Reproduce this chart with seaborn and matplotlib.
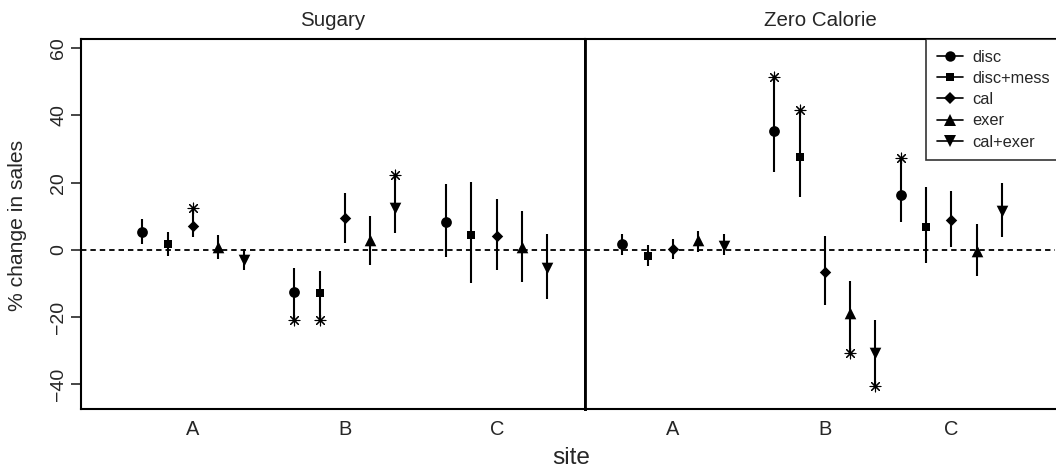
import numpy as np
import pandas as pd
import matplotlib
matplotlib.use("Agg")
import matplotlib.pyplot as plt
from matplotlib.lines import Line2D
import seaborn as sns

# ---------------- data ----------------
treatments = ["disc", "disc+mess", "cal", "exer", "cal+exer"]
sites = ["A", "B", "C"]
panels = ["Sugary", "Zero Calorie"]

# values ordered site-major (A: 5 treatments, B: 5, C: 5)
sugary_est = [5.4, 1.8, 7.1, 1.0, -3.0,
              -12.4, -12.7, 9.4, 2.8, 12.4,
              8.2, 4.3, 4.0, 1.0, -5.5]
sugary_lo = [1.8, -1.8, 3.7, -2.6, -6.1,
             -20.8, -20.8, 2.0, -4.5, 5.0,
             -2.2, -9.9, -6.1, -9.4, -14.7]
sugary_hi = [9.1, 5.2, 12.4, 4.5, 0.3,
             -5.5, -6.2, 16.8, 10.1, 22.3,
             19.6, 20.1, 15.1, 11.6, 4.8]
sugary_sig = [0, 0, 1, 0, 0,
              1, 1, 0, 0, 1,
              0, 0, 0, 0, 0]

zero_est = [1.7, -1.7, 0.3, 3.0, 1.3,
            35.4, 27.5, -6.7, -18.8, -30.7,
            16.3, 6.7, 8.9, -0.2, 11.7]
zero_lo = [-1.5, -4.8, -2.7, -0.7, -1.5,
           23.1, 15.7, -16.3, -30.7, -40.6,
           8.2, -4.0, 1.0, -7.9, 3.8]
zero_hi = [4.8, 1.5, 3.3, 5.7, 4.7,
           51.3, 41.5, 4.0, -9.2, -20.8,
           27.2, 18.6, 17.5, 7.6, 20.0]
zero_sig = [0, 0, 0, 0, 0,
            1, 1, 0, 1, 1,
            1, 0, 0, 0, 0]

yticks = [-40, -20, 0, 20, 40, 60]

# ---------------- layout / style ----------------
site_centers = {"Sugary": [0, 6, 12], "Zero Calorie": [0, 6, 11]}
xlims = {"Sugary": (-4.43, 15.49), "Zero Calorie": (-3.48, 15.1)}
ylim = (-47.3, 62.7)
marker_map = {"disc": "o", "disc+mess": "s", "cal": "D", "exer": "^", "cal+exer": "v"}
size_map = {"disc": 60, "disc+mess": 32, "cal": 34, "exer": 70, "cal+exer": 70}
leg_ms = {"disc": 7.5, "disc+mess": 5.5, "cal": 5.8, "exer": 8.2, "cal+exer": 8.2}


def build_frame(est, lo, hi, sig, panel):
    rows = []
    for si, s in enumerate(sites):
        for ti, t in enumerate(treatments):
            k = si * len(treatments) + ti
            rows.append(dict(panel=panel, site=s, treatment=t,
                             x=site_centers[panel][si] + (ti - 2),
                             est=est[k], lo=lo[k], hi=hi[k], sig=sig[k]))
    return pd.DataFrame(rows)


df = pd.concat([
    build_frame(sugary_est, sugary_lo, sugary_hi, sugary_sig, "Sugary"),
    build_frame(zero_est, zero_lo, zero_hi, zero_sig, "Zero Calorie"),
], ignore_index=True)

sns.set_theme(style="white")
plt.rcParams["font.family"] = ["Liberation Sans", "DejaVu Sans"]

W, H = 1056, 470
fig = plt.figure(figsize=(W / 100, H / 100), dpi=100)
top_px, bot_px = 39, 409
ax_defs = {"Sugary": (81, 585), "Zero Calorie": (585, 1055)}
axes = {}
for p in panels:
    x0, x1 = ax_defs[p]
    axes[p] = fig.add_axes([x0 / W, 1 - bot_px / H, (x1 - x0) / W, (bot_px - top_px) / H])

for p in panels:
    ax = axes[p]
    d = df[df.panel == p]
    ax.axhline(0, color="black", lw=1.3, ls=(0, (3.0, 2.2)), zorder=1)
    ax.vlines(d.x, d.lo, d.hi, color="black", lw=1.5, zorder=2)
    for t in treatments:
        sns.scatterplot(data=d[d.treatment == t], x="x", y="est", marker=marker_map[t],
                        s=size_map[t], color="black", linewidth=0, ax=ax,
                        legend=False, zorder=3)
    sd = d[d.sig == 1].copy()
    sd["sy"] = np.where(sd.est > 0, sd.hi, sd.lo)
    sns.scatterplot(data=sd, x="x", y="sy", marker=(8, 2, 0), s=60, color="black",
                    linewidth=0.8, edgecolor="black", ax=ax, legend=False, zorder=4)
    ax.set_xlim(*xlims[p])
    ax.set_ylim(*ylim)
    ax.set_xticks(site_centers[p])
    ax.set_xticklabels(sites, fontsize=14.4)
    ax.tick_params(axis="x", length=0, pad=8)
    ax.set_xlabel("")
    ax.set_ylabel("")
    for s in ax.spines.values():
        s.set_color("black")
        s.set_linewidth(1.5)
    x0, x1 = ax_defs[p]
    fig.text(((x0 + x1) / 2) / W, 1 - 21 / H, p, ha="center", va="center", fontsize=14.8)

axL, axR = axes["Sugary"], axes["Zero Calorie"]
axL.set_yticks(yticks)
axL.set_yticklabels([str(v).replace("-", "\u2212") for v in yticks], rotation=90,
                    va="center", fontsize=14)
axL.tick_params(axis="y", left=True, length=7, width=1.2, pad=3, direction="out")
fig.text(18 / W, 1 - 225 / H, "% change in sales", rotation=90, ha="center",
         va="center", fontsize=15.2)
axR.set_yticks([])
axR.spines["left"].set_linewidth(2.0)
axL.spines["right"].set_linewidth(2.0)
axR.spines["right"].set_visible(False)

fig.text(571 / W, 1 - 458 / H, "site", ha="center", va="center", fontsize=17.6)

handles = [Line2D([0], [0], color="black", lw=1.2, marker=marker_map[t],
                  markersize=leg_ms[t], markeredgewidth=0) for t in treatments]
leg = axR.legend(handles, treatments, loc="upper left",
                 bbox_to_anchor=((926 - 585) / (1055 - 585), 1.0),
                 borderaxespad=0, frameon=True, fancybox=False, fontsize=11.8,
                 handlelength=1.6, handletextpad=0.6, labelspacing=0.38,
                 borderpad=0.65)
leg.get_frame().set_edgecolor("black")
leg.get_frame().set_linewidth(1.2)

fig.savefig("out.png", dpi=100)
